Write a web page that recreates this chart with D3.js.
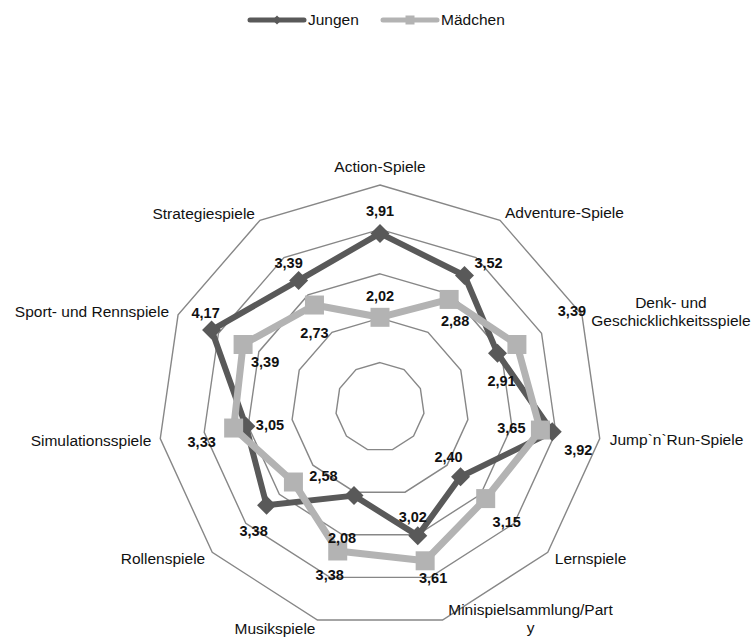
<!DOCTYPE html>
<html>
<head>
<meta charset="utf-8">
<script src="https://cdn.jsdelivr.net/npm/d3@7"></script>
<style>
  body { margin: 0; background: #fff; }
  svg { display: block; font-family: "Liberation Sans", Arial, sans-serif; }
</style>
</head>
<body>
<svg></svg>
<script>
var width = 754, height = 644;

// data
var categories = ["Action-Spiele", "Adventure-Spiele", "Denk- und Geschicklichkeitsspiele",
  "Jump`n`Run-Spiele", "Lernspiele", "Minispielsammlung/Party", "Musikspiele",
  "Rollenspiele", "Simulationsspiele", "Sport- und Rennspiele", "Strategiespiele"];
var jungen  = [3.91, 3.52, 2.91, 3.92, 2.40, 3.02, 2.08, 3.38, 3.05, 4.17, 3.39];
var maedchen = [2.02, 2.88, 3.39, 3.65, 3.15, 3.61, 3.38, 2.58, 3.33, 3.39, 2.73];
var gridLevels = [1, 2, 3, 4, 5];
var seriesNames = ["Jungen", "Mädchen"];

// label layout (text offsets from the point / outer vertex)
var offJ = [[0,-22],[24,-13],[4,28],[26,18],[-12,-20],[-5,-19],[-12,42],[-13,26],[24,-1],[-6,-17],[-10,-17]];
var offM = [[0,-21],[6,21],[55,-34],[-29,-2],[21,23],[8,17],[-8,24],[30,-6],[-32,14],[22,17],[0,28]];
var catPos = [
  {dx: 0, dy: -18, a: "middle", lines: ["Action-Spiele"]},
  {dx: 5, dy: -8, a: "start", lines: ["Adventure-Spiele"]},
  {dx: 89, dy: -3, a: "middle", lines: ["Denk- und", "Geschicklichkeitsspiele"]},
  {dx: 10, dy: 1, a: "start", lines: ["Jump`n`Run-Spiele"]},
  {dx: 7, dy: 6, a: "start", lines: ["Lernspiele"]},
  {dx: 88, dy: -1, a: "middle", lines: ["Minispielsammlung/Part", "y"]},
  {dx: -2, dy: 9, a: "end", lines: ["Musikspiele"]},
  {dx: -7, dy: 6, a: "end", lines: ["Rollenspiele"]},
  {dx: -9, dy: 2, a: "end", lines: ["Simulationsspiele"]},
  {dx: -9, dy: -3, a: "end", lines: ["Sport- und Rennspiele"]},
  {dx: -5, dy: -7, a: "end", lines: ["Strategiespiele"]}
];

var cx = 380, cy = 407, R = 222;
var colJ = "#595959", colM = "#b3b3b3";

var svg = d3.select("svg").attr("width", width).attr("height", height);
var g = svg.append("g").attr("transform", "translate(" + cx + "," + cy + ")");

var r = d3.scaleLinear().domain([0, 5]).range([0, R]);
var angle = d3.scalePoint().domain(d3.range(categories.length + 1)).range([0, 2 * Math.PI]);

function pt(i, v) {
  var a = angle(i);
  return [r(v) * Math.sin(a), -r(v) * Math.cos(a)];
}

// grid rings
gridLevels.forEach(function(lv) {
  g.append("path")
    .attr("d", d3.line()(categories.map(function(c, i) { return pt(i, lv); })) + "Z")
    .attr("fill", "none")
    .attr("stroke", "#878787")
    .attr("stroke-width", 1.4);
});

// category labels
categories.forEach(function(c, i) {
  var p = pt(i, 5), o = catPos[i];
  var n = o.lines.length;
  var t = g.append("text")
    .attr("text-anchor", o.a)
    .attr("font-size", "15.5px")
    .attr("fill", "#111");
  o.lines.forEach(function(line, k) {
    t.append("tspan")
      .attr("x", p[0] + o.dx)
      .attr("y", p[1] + o.dy + (k - (n - 1) / 2) * 18)
      .attr("dy", "0.35em")
      .text(line);
  });
});

function drawSeries(values, color, lw, marker) {
  var pts = values.map(function(v, i) { return pt(i, v); });
  g.append("path")
    .attr("d", d3.line()(pts) + "Z")
    .attr("fill", "none")
    .attr("stroke", color)
    .attr("stroke-width", lw)
    .attr("stroke-linejoin", "round");
  g.selectAll(null)
    .data(pts)
    .enter().append("path")
    .attr("transform", function(d) { return "translate(" + d[0] + "," + d[1] + ")"; })
    .attr("d", marker)
    .attr("fill", color);
}

var diamond = "M0,-9.5L9.5,0L0,9.5L-9.5,0Z";
var square = "M-9.5,-9.5H9.5V9.5H-9.5Z";

drawSeries(jungen, colJ, 6, diamond);
drawSeries(maedchen, colM, 7, square);

// data labels
function drawLabels(values, offs) {
  values.forEach(function(v, i) {
    var p = pt(i, v);
    g.append("text")
      .attr("x", p[0] + offs[i][0])
      .attr("y", p[1] + offs[i][1])
      .attr("dy", "0.35em")
      .attr("text-anchor", "middle")
      .attr("font-size", "14.5px")
      .attr("font-weight", "bold")
      .attr("fill", "#111")
      .text(d3.format(".2f")(v).replace(".", ","));
  });
}
drawLabels(jungen, offJ);
drawLabels(maedchen, offM);

// legend
var legend = svg.append("g").attr("transform", "translate(250,20)");
var legItems = [
  {x: 0, color: colJ, marker: "M0,-4.5L4.5,0L0,4.5L-4.5,0Z"},
  {x: 133, color: colM, marker: "M-4.5,-4.5H4.5V4.5H-4.5Z"}
];
legItems.forEach(function(it, k) {
  var lg = legend.append("g").attr("transform", "translate(" + it.x + ",0)");
  lg.append("line")
    .attr("x1", 0).attr("x2", 54).attr("y1", 0).attr("y2", 0)
    .attr("stroke", it.color).attr("stroke-width", 5).attr("stroke-linecap", "round");
  lg.append("path").attr("transform", "translate(27,0)").attr("d", it.marker).attr("fill", it.color);
  lg.append("text")
    .attr("x", 58).attr("y", 0).attr("dy", "0.35em")
    .attr("font-size", "15.5px").attr("fill", "#111")
    .text(seriesNames[k]);
});
</script>
</body>
</html>
